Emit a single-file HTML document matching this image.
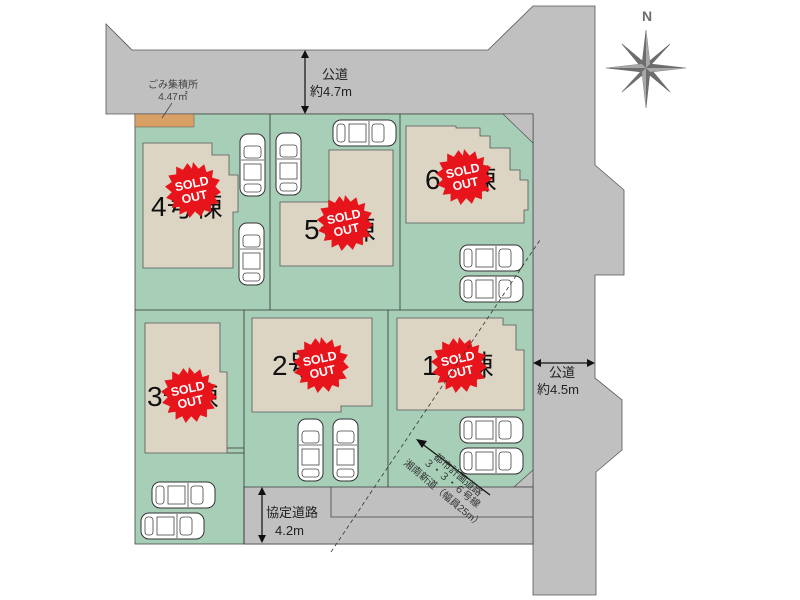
<!DOCTYPE html>
<html><head><meta charset="utf-8"><style>
html,body{margin:0;padding:0;background:#fff;}
svg{display:block;font-family:"Liberation Sans","Noto Sans CJK JP",sans-serif;}
</style></head><body>
<svg width="800" height="600" viewBox="0 0 800 600" xmlns="http://www.w3.org/2000/svg">
<defs>
<g id="carV">
<rect x="0" y="0" width="25" height="62" rx="8" fill="#fff" stroke="#333" stroke-width="1"/>
<rect x="4" y="12" width="17" height="12" rx="3" fill="none" stroke="#444" stroke-width="0.8"/>
<rect x="4" y="30" width="17" height="16" fill="none" stroke="#444" stroke-width="0.8"/>
<rect x="4" y="50" width="17" height="8" rx="3" fill="none" stroke="#444" stroke-width="0.8"/>
<line x1="1" y1="26" x2="24" y2="26" stroke="#444" stroke-width="0.8"/>
</g>
<g id="carH">
<rect x="0" y="0" width="63" height="26" rx="8" fill="#fff" stroke="#333" stroke-width="1"/>
<rect x="39" y="4" width="12" height="18" rx="3" fill="none" stroke="#444" stroke-width="0.8"/>
<rect x="16" y="4" width="17" height="18" fill="none" stroke="#444" stroke-width="0.8"/>
<rect x="4" y="4" width="8" height="18" rx="3" fill="none" stroke="#444" stroke-width="0.8"/>
<line x1="36" y1="1" x2="36" y2="25" stroke="#444" stroke-width="0.8"/>
</g>
<g id="star" transform="scale(1.12)">
<polygon fill="#e8141b" points="0,-25 5,-19 10,-23 12,-16 18,-18 17,-11 24,-9 20,-3 25,2 19,6 23,12 16,13 16,20 10,18 7,24 2,19 -3,25 -6,19 -12,22 -12,15 -19,16 -17,10 -24,7 -19,2 -25,-3 -19,-7 -22,-13 -15,-14 -15,-21 -9,-18 -5,-24 -1,-19"/>
<text x="0" y="-2" text-anchor="middle" font-size="11" font-weight="bold" fill="#fff" transform="rotate(-12)">SOLD</text>
<text x="0" y="10" text-anchor="middle" font-size="11" font-weight="bold" fill="#fff" transform="rotate(-12)">OUT</text>
</g>
</defs>
<polygon fill="#c0c0c0" stroke="#555" stroke-width="0.8" points="106,24 132,50 488,50 533,6 595,6 595,165 624,190 624,275 595,275 595,378 622,400 622,450 596,472 596,595 533,595 533,114 106,114"/>
<rect x="135" y="114" width="398" height="430" fill="#a7cfb8" stroke="#444" stroke-width="0.8"/>
<polygon points="503,114 533,114 533,143" fill="#c0c0c0" stroke="#444" stroke-width="0.6"/>
<polygon points="514,487 533,487 533,470" fill="#c0c0c0" stroke="#444" stroke-width="0.6"/>
<rect x="244" y="487" width="289" height="57" fill="#c0c0c0" stroke="#444" stroke-width="0.8"/>
<polyline points="331,487 331,517 533,517" fill="none" stroke="#444" stroke-width="0.8"/>
<g stroke="#333" stroke-width="0.8">
<line x1="270" y1="114" x2="270" y2="310"/>
<line x1="400" y1="114" x2="400" y2="310"/>
<line x1="135" y1="310" x2="533" y2="310"/>
<line x1="244" y1="310" x2="244" y2="544"/>
<line x1="388" y1="310" x2="388" y2="487"/>
<line x1="227" y1="448" x2="244" y2="448"/>
<line x1="227" y1="453" x2="244" y2="453"/>
</g>
<rect x="135" y="114" width="59" height="13" fill="#d9a066" stroke="#555" stroke-width="0.5"/>
<line x1="162" y1="118" x2="172" y2="103" stroke="#444" stroke-width="0.8"/>
<text x="173" y="88" text-anchor="middle" font-size="10" fill="#444">ごみ集積所</text>
<text x="173" y="100" text-anchor="middle" font-size="10" fill="#444">4.47㎡</text>
<g fill="#ddd5c3" stroke="#555" stroke-width="0.8">
<polygon points="143,143 212,143 212,155 229,155 229,175 238,175 238,212 233,212 233,268 143,268"/>
<polygon points="329,150 393,150 393,266 280,266 280,202 329,202"/>
<polygon points="406,126 456,126 456,128 480,128 480,136 490,136 490,148 510,148 510,170 520,170 520,180 528,180 528,210 524,210 524,223 406,223"/>
<polygon points="145,323 220,323 220,372 227,372 227,453 145,453"/>
<polygon points="252,318 372,318 372,406 341,406 341,412 252,412"/>
<polygon points="397,318 503,318 503,325 516,325 516,350 524,350 524,410 397,410"/>
</g>
<g font-size="28" fill="#111">
<text x="151" y="216">4号棟</text>
<text x="304" y="239">5号棟</text>
<text x="425" y="189">6号棟</text>
<text x="147" y="406">3号棟</text>
<text x="272" y="375">2号棟</text>
<text x="422" y="375">1号棟</text>
</g>
<use href="#star" x="193" y="190"/>
<use href="#star" x="345" y="223"/>
<use href="#star" x="464" y="177"/>
<use href="#star" x="189" y="395"/>
<use href="#star" x="321" y="365"/>
<use href="#star" x="459" y="365"/>
<use href="#carV" x="240" y="134"/>
<use href="#carV" x="239" y="223"/>
<use href="#carV" x="276" y="133"/>
<use href="#carH" x="333" y="120"/>
<use href="#carH" x="460" y="245"/>
<use href="#carH" x="460" y="276"/>
<use href="#carV" x="298" y="419"/>
<use href="#carV" x="333" y="419"/>
<use href="#carH" x="460" y="417"/>
<use href="#carH" x="460" y="448"/>
<use href="#carH" x="152" y="482"/>
<use href="#carH" x="141" y="513"/>
<line x1="331" y1="552" x2="540" y2="240" stroke="#333" stroke-width="0.8" stroke-dasharray="4,3"/>
<g stroke="#111" stroke-width="1.2" fill="#111">
<line x1="305" y1="55" x2="305" y2="109"/>
<polygon points="305,50 301,58 309,58" stroke="none"/>
<polygon points="305,114 301,106 309,106" stroke="none"/>
<line x1="538" y1="363" x2="590" y2="363"/>
<polygon points="533,363 541,359 541,367" stroke="none"/>
<polygon points="595,363 587,359 587,367" stroke="none"/>
<line x1="262" y1="492" x2="262" y2="538"/>
<polygon points="262,487 258,495 266,495" stroke="none"/>
<polygon points="262,543 258,535 266,535" stroke="none"/>
<line x1="490" y1="495" x2="421" y2="443"/>
<polygon points="416,439 427,441 422,448" stroke="none"/>
</g>
<g font-size="13" fill="#222">
<text x="322" y="79">公道</text>
<text x="310" y="96">約4.7m</text>
<text x="549" y="377">公道</text>
<text x="537" y="394">約4.5m</text>
<text x="266" y="517">協定道路</text>
<text x="275" y="535">4.2m</text>
</g>
<g font-size="10" fill="#333">
<text transform="translate(433,458) rotate(40)">都市計画道路</text>
<text transform="translate(423,463) rotate(40)">３・３・６号線</text>
<text transform="translate(403,464) rotate(40)">湘南新道（幅員25m）</text>
</g>
<g fill="#6d6d6d" stroke="#6d6d6d" stroke-width="0.6">
<polygon points="646,30 650,64 646,68 642,64"/>
<polygon points="646,108 650,72 646,68 642,72"/>
<polygon points="606,68 642,64 646,68 642,72"/>
<polygon points="686,68 650,64 646,68 650,72"/>
<polygon points="622,44 646,64 646,68 642,68"/>
<polygon points="670,44 648,68 646,68 646,64"/>
<polygon points="622,92 644,68 646,68 646,72"/>
<polygon points="670,92 646,72 646,68 650,68"/>
</g>
<polygon points="646,30 650,64 646,68" fill="#a8a8a8"/>
<polygon points="686,68 650,72 646,68" fill="#a8a8a8"/>
<polygon points="646,108 642,72 646,68" fill="#a8a8a8"/>
<polygon points="606,68 642,64 646,68" fill="#a8a8a8"/>
<text x="647" y="21" text-anchor="middle" font-size="14" font-weight="bold" fill="#6d6d6d">N</text>
</svg>
</body></html>
